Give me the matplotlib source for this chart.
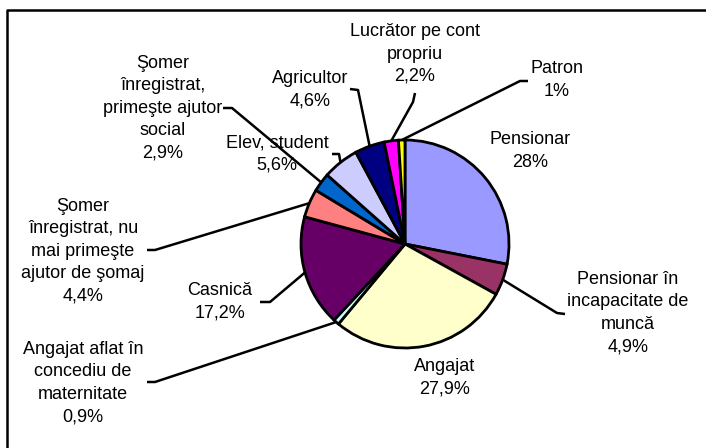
import numpy as np
import matplotlib
matplotlib.use('Agg')
import matplotlib.pyplot as plt

plt.rcParams['font.family'] = ['Liberation Sans', 'DejaVu Sans']

# Data (clockwise from 12 o'clock)
labels = [
    'Pensionar\n28%',
    'Pensionar în\nincapacitate de\nmuncă\n4,9%',
    'Angajat\n27,9%',
    'Angajat aflat în\nconcediu de\nmaternitate\n0,9%',
    'Casnică\n17,2%',
    'Şomer\nînregistrat, nu\nmai primeşte\najutor de şomaj\n4,4%',
    'Şomer\nînregistrat,\nprimeşte ajutor\nsocial\n2,9%',
    'Elev, student\n5,6%',
    'Agricultor\n4,6%',
    'Lucrător pe cont\npropriu\n2,2%',
    'Patron\n1%',
]
values = [28, 4.9, 27.9, 0.9, 17.2, 4.4, 2.9, 5.6, 4.6, 2.2, 1]
colors = ['#9999FF', '#993366', '#FFFFCC', '#CCFFFF', '#660066', '#FF8080',
          '#0066CC', '#CCCCFF', '#000080', '#FF00FF', '#FFFF00']

# Layout (pixels from top-left of the 706x448 image)
W, H = 706, 448
CENTER = (405, 244)
RADIUS = 104
# label text centre, leader elbow, leader end (None = no leader)
label_pos = [(530, 151), (628, 313), (445, 378), (83, 383), (220, 302),
             (83, 251), (163, 108), (277, 154), (310, 90), (415, 54), (557, 80)]
elbows = [None, (557, 313), None, (155, 382), (270, 302), (155, 250),
          (232, 108), (339, 154), (358, 90), (413, 102), (520, 81)]
ends = [None, (565, 314), None, (147, 382), (260, 302), (147, 250),
        (223, 108), (332, 154), (350, 89), (415, 93), (528, 81)]


def fy(y):
    return H - y


fig = plt.figure(figsize=(W / 100, H / 100), dpi=100)
ax = fig.add_axes([0, 0, 1, 1])
ax.set_xlim(0, W)
ax.set_ylim(0, H)

wedges, _ = ax.pie(values, colors=colors, startangle=90, counterclock=False,
                   center=(CENTER[0], fy(CENTER[1])), radius=RADIUS, frame=True,
                   wedgeprops=dict(edgecolor='black', linewidth=2.0))
ax.set_xlim(0, W)
ax.set_ylim(0, H)
ax.set_aspect('equal')
ax.axis('off')

for w, lab, pos, elb, end in zip(wedges, labels, label_pos, elbows, ends):
    ax.text(pos[0], fy(pos[1]), lab, ha='center', va='center',
            fontsize=13, linespacing=1.42, multialignment='center')
    if elb is None:
        continue
    mid = np.deg2rad((w.theta1 + w.theta2) / 2)
    sx = CENTER[0] + RADIUS * np.cos(mid)
    sy = fy(CENTER[1]) + RADIUS * np.sin(mid)
    ax.plot([sx, elb[0], end[0]], [sy, fy(elb[1]), fy(end[1])],
            color='black', lw=1.8, solid_capstyle='butt', zorder=3)

# chart frame (cropped at right and bottom)
ax.plot([7, 7, W + 5], [-5, fy(10), fy(10)], color='black', lw=1.8)

fig.savefig('out.png', dpi=100)
